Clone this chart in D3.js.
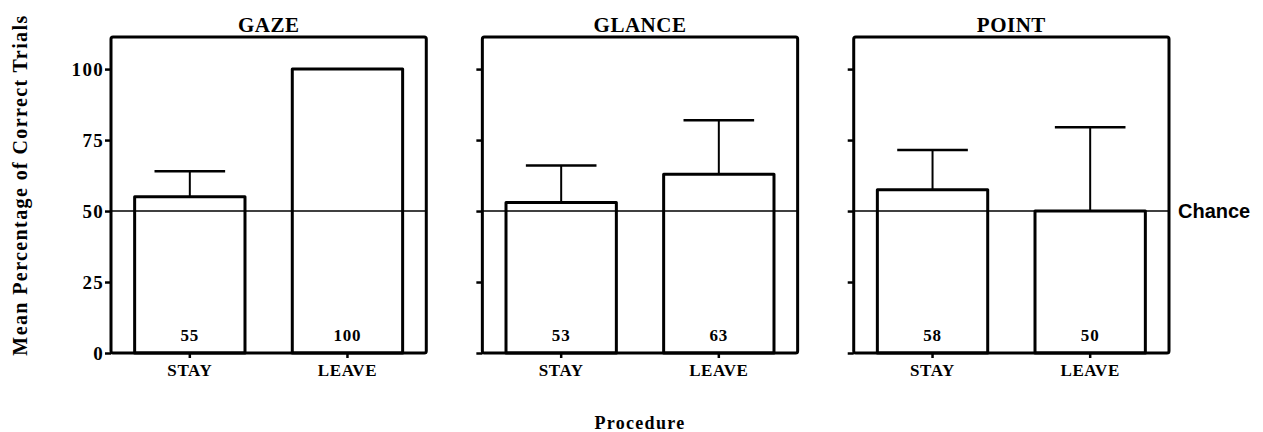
<!DOCTYPE html>
<html>
<head>
<meta charset="utf-8">
<script src="https://cdn.jsdelivr.net/npm/d3@7"></script>
<style>
    body { margin: 0; background: #fff; }
    svg { display: block; }
    .serif { font-family: "Liberation Serif", "Times New Roman", serif; font-weight: bold; fill: #000; }
</style>
</head>
<body>
<div id="chart"></div>
<script>
// Data
const panels = ["GAZE", "GLANCE", "POINT"];
const conditions = ["STAY", "LEAVE"];
const means = [
    [55, 100],   // GAZE
    [53, 63],    // GLANCE
    [57.5, 50]   // POINT
];
const meanLabels = [
    ["55", "100"],
    ["53", "63"],
    ["58", "50"]
];
const errorTops = [
    [64, null],
    [66, 82],
    [71.5, 79.5]
];
const yTicks = [0, 25, 50, 75, 100];
const chanceLevel = 50;

const width = 1263;
const height = 432;

const svg = d3.select("#chart")
    .append("svg")
    .attr("width", width)
    .attr("height", height);

// Panel placement
const panelScale = d3.scaleBand()
    .domain(panels)
    .range([111, 1169])
    .paddingInner(0.151);

const y = d3.scaleLinear()
    .domain([0, 111.3])
    .range([353, 37]);

const x = d3.scaleBand()
    .domain(conditions)
    .range([0, panelScale.bandwidth()])
    .paddingInner(0.3)
    .paddingOuter(0.15);

panels.forEach((name, pi) => {
    const g = svg.append("g")
        .attr("transform", `translate(${panelScale(name)},0)`);

    // Y axis ticks
    const yAxis = d3.axisLeft(y)
        .tickValues(yTicks)
        .tickSize(6)
        .tickPadding(1)
        .tickFormat(pi === 0 ? d3.format("d") : () => "");
    const ya = g.append("g").call(yAxis);
    ya.select(".domain").remove();
    ya.selectAll(".tick line").attr("stroke-width", 2.5);
    ya.selectAll(".tick text")
        .attr("class", "serif")
        .style("font-size", "19px")
        .style("letter-spacing", "1.3px");

    // X axis ticks
    const xAxis = d3.axisBottom(x)
        .tickSize(5)
        .tickPadding(6);
    const xa = g.append("g")
        .attr("transform", `translate(0,${y(0)})`)
        .call(xAxis);
    xa.select(".domain").remove();
    xa.selectAll(".tick line").attr("stroke-width", 2.5);
    xa.selectAll(".tick text")
        .attr("class", "serif")
        .style("font-size", "17px")
        .style("letter-spacing", "0.6px");

    // Bars
    g.selectAll(".bar")
        .data(conditions)
        .enter()
        .append("rect")
        .attr("x", d => x(d))
        .attr("y", (d, i) => y(means[pi][i]))
        .attr("width", x.bandwidth())
        .attr("height", (d, i) => y(0) - y(means[pi][i]))
        .attr("fill", "#fff")
        .attr("stroke", "#000")
        .attr("stroke-width", 3)
        .attr("stroke-linejoin", "round");

    // Error bars (upper only)
    const capHalf = x.bandwidth() * 0.32;
    conditions.forEach((c, i) => {
        const top = errorTops[pi][i];
        if (top === null) return;
        const cx = x(c) + x.bandwidth() / 2;
        g.append("line")
            .attr("x1", cx).attr("x2", cx)
            .attr("y1", y(means[pi][i])).attr("y2", y(top))
            .attr("stroke", "#000").attr("stroke-width", 2);
        g.append("line")
            .attr("x1", cx - capHalf).attr("x2", cx + capHalf)
            .attr("y1", y(top)).attr("y2", y(top))
            .attr("stroke", "#000").attr("stroke-width", 2.5);
    });

    // Chance line
    g.append("line")
        .attr("x1", 0).attr("x2", panelScale.bandwidth())
        .attr("y1", y(chanceLevel)).attr("y2", y(chanceLevel))
        .attr("stroke", "#000")
        .attr("stroke-width", 1.5);

    // Value labels inside bars
    g.selectAll(".val")
        .data(conditions)
        .enter()
        .append("text")
        .attr("class", "serif")
        .attr("x", d => x(d) + x.bandwidth() / 2)
        .attr("y", y(0) - 12)
        .attr("text-anchor", "middle")
        .style("font-size", "17px")
        .style("letter-spacing", "0.8px")
        .text((d, i) => meanLabels[pi][i]);

    // Frame
    g.append("rect")
        .attr("x", 0)
        .attr("y", y.range()[1])
        .attr("width", panelScale.bandwidth())
        .attr("height", y(0) - y.range()[1])
        .attr("rx", 2)
        .attr("fill", "none")
        .attr("stroke", "#000")
        .attr("stroke-width", 3);

    // Panel title
    g.append("text")
        .attr("class", "serif")
        .attr("x", panelScale.bandwidth() / 2)
        .attr("y", 32)
        .attr("text-anchor", "middle")
        .style("font-size", "21px")
        .style("letter-spacing", "0.5px")
        .text(name);
});

// Chance label
svg.append("text")
    .attr("x", panelScale(panels[2]) + panelScale.bandwidth() + 9)
    .attr("y", y(chanceLevel) + 7)
    .style("font-family", "'Liberation Sans', Arial, sans-serif")
    .style("font-weight", "bold")
    .style("font-size", "20px")
    .text("Chance");

// Axis titles
svg.append("text")
    .attr("class", "serif")
    .attr("transform", `translate(27, ${185}) rotate(-90)`)
    .attr("text-anchor", "middle")
    .style("font-size", "20px")
    .style("letter-spacing", "1.4px")
    .text("Mean Percentage of Correct Trials");

svg.append("text")
    .attr("class", "serif")
    .attr("x", (panelScale(panels[0]) + panelScale(panels[2]) + panelScale.bandwidth()) / 2)
    .attr("y", 429)
    .attr("text-anchor", "middle")
    .style("font-size", "18px")
    .style("letter-spacing", "1.3px")
    .text("Procedure");
</script>
</body>
</html>
